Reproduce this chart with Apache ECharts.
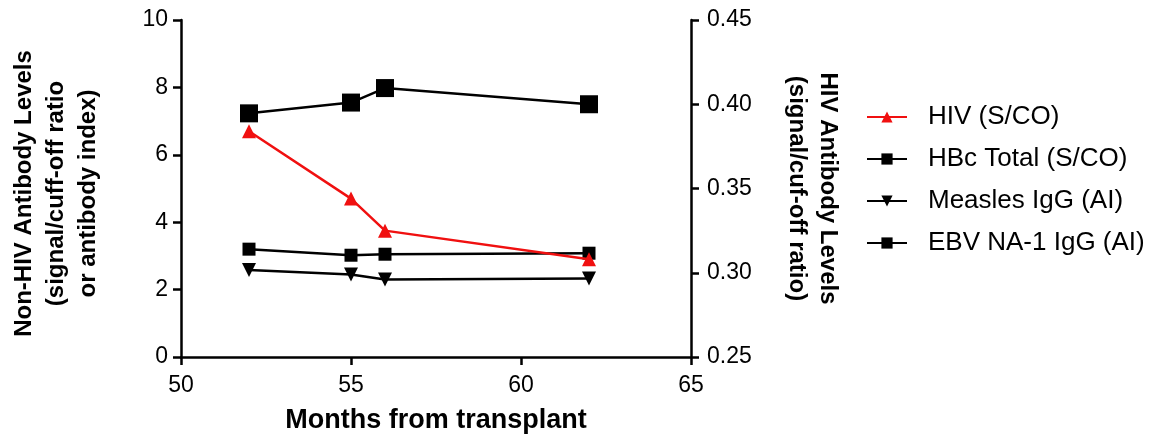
<!DOCTYPE html>
<html><head><meta charset="utf-8">
<script src="https://cdn.jsdelivr.net/npm/echarts@6/dist/echarts.min.js"></script>
<style>html,body{margin:0;padding:0;background:#fff}#c{width:1162px;height:439px}</style>
</head><body><div id="c"></div>
<script>
const months = [52, 55, 56, 62];
const hivSCO = [0.384, 0.344, 0.325, 0.308];
const hbcTotal = [3.2, 3.02, 3.05, 3.08];
const measlesIgG = [2.58, 2.45, 2.3, 2.33];
const ebvNA1 = [7.23, 7.55, 7.98, 7.5];
const xTicks = [50, 55, 60, 65];
const leftTicks = [0, 2, 4, 6, 8, 10];
const rightTicks = [0.25, 0.30, 0.35, 0.40, 0.45];

const pairs = (ys) => months.map((m, i) => [m, ys[i]]);
const font = 'Liberation Sans, Arial, sans-serif';
const axisLine = {show: true, lineStyle: {color: '#000', width: 2.5}};
const axisTick = {show: true, inside: false, length: 8, lineStyle: {color: '#000', width: 2.5}};

const chart = echarts.init(document.getElementById('c'), null, {renderer: 'canvas'});
chart.setOption({
  animation: false,
  backgroundColor: '#fff',
  grid: {left: 181, right: 471, top: 20, bottom: 80, containLabel: false},
  legend: {
    orient: 'vertical', left: 866, top: 104, padding: 0, itemGap: 16, itemWidth: 40, itemHeight: 14,
    textStyle: {fontFamily: font, fontSize: 26, color: '#000', padding: [0, 0, 0, 16]},
    data: ['HIV (S/CO)', 'HBc Total (S/CO)', 'Measles IgG (AI)', 'EBV NA-1 IgG (AI)']
  },
  xAxis: {
    type: 'value', min: 50, max: 65, interval: 5,
    axisLine, axisTick, splitLine: {show: false},
    axisLabel: {fontFamily: font, fontSize: 23, color: '#000', margin: 17,
      formatter: v => xTicks.includes(v) ? String(v) : ''},
    name: 'Months from transplant', nameLocation: 'middle', nameGap: 50,
    nameTextStyle: {fontFamily: font, fontSize: 27, fontWeight: 'bold', color: '#000'}
  },
  yAxis: [{
    type: 'value', min: 0, max: 10, interval: 2, position: 'left',
    axisLine, axisTick, splitLine: {show: false},
    axisLabel: {fontFamily: font, fontSize: 23, color: '#000', margin: 13,
      formatter: v => leftTicks.includes(v) ? String(v) : ''},
    name: 'Non-HIV Antibody Levels\n(signal/cuff-off ratio\nor antibody index)',
    nameLocation: 'middle', nameGap: 77, nameRotate: 90,
    nameTextStyle: {fontFamily: font, fontSize: 24, fontWeight: 'bold', color: '#000', lineHeight: 32, align: 'center', padding: [0, 10, 0, 0]}
  }, {
    type: 'value', min: 0.25, max: 0.45, interval: 0.05, position: 'right',
    axisLine, axisTick, splitLine: {show: false},
    axisLabel: {fontFamily: font, fontSize: 23, color: '#000', margin: 16,
      formatter: v => v.toFixed(2)},
    name: 'HIV Antibody Levels\n(signal/cuf-off ratio)',
    nameLocation: 'middle', nameGap: 90, nameRotate: -90,
    nameTextStyle: {fontFamily: font, fontSize: 24, fontWeight: 'bold', color: '#000', lineHeight: 31, align: 'center'}
  }],
  series: [{
    name: 'HIV (S/CO)', type: 'line', yAxisIndex: 1, data: pairs(hivSCO),
    symbol: 'triangle', symbolSize: 14, lineStyle: {color: '#f01010', width: 2.5},
    itemStyle: {color: '#f01010'}, z: 5
  }, {
    name: 'HBc Total (S/CO)', type: 'line', yAxisIndex: 0, data: pairs(hbcTotal),
    symbol: 'rect', symbolSize: 13, lineStyle: {color: '#000', width: 2.5},
    itemStyle: {color: '#000'}
  }, {
    name: 'Measles IgG (AI)', type: 'line', yAxisIndex: 0, data: pairs(measlesIgG),
    symbol: 'triangle', symbolRotate: 180, symbolSize: 14, lineStyle: {color: '#000', width: 2.5},
    itemStyle: {color: '#000'}
  }, {
    name: 'EBV NA-1 IgG (AI)', type: 'line', yAxisIndex: 0, data: pairs(ebvNA1),
    symbol: 'rect', symbolSize: 18, lineStyle: {color: '#000', width: 2.5},
    itemStyle: {color: '#000'}
  }]
});
</script></body></html>
